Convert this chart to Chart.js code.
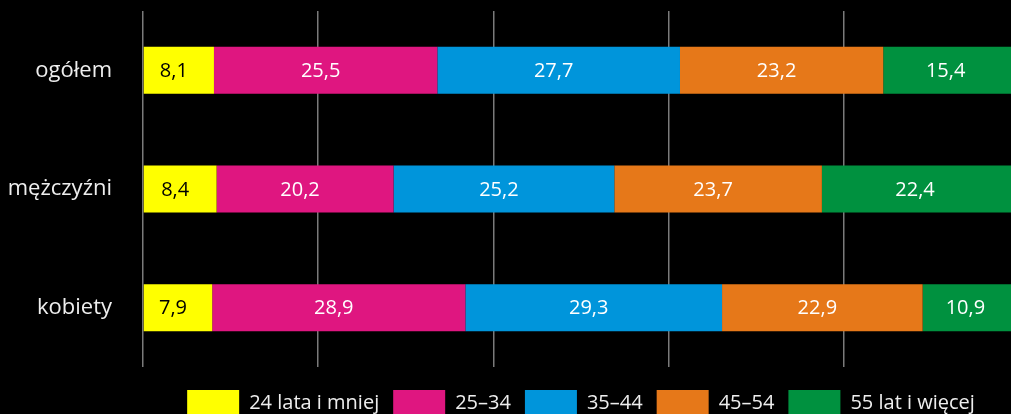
<!DOCTYPE html>
<html>
<head>
<meta charset="utf-8">
<script src="https://cdn.jsdelivr.net/npm/chart.js@4/dist/chart.umd.min.js"></script>
<style>
  html, body { margin: 0; padding: 0; background: #000; overflow: hidden; }
  #wrap { position: absolute; left: 0; top: 0; width: 1021px; height: 426px; }
</style>
</head>
<body>
<div id="wrap"><canvas id="c"></canvas></div>
<script>
const categories = ['ogółem', 'mężczyźni', 'kobiety'];
const seriesNames = ['24 lata i mniej', '25–34', '35–44', '45–54', '55 lat i więcej'];
const s24 = [8.1, 8.4, 7.9];
const s25 = [25.5, 20.2, 28.9];
const s35 = [27.7, 25.2, 29.3];
const s45 = [23.2, 23.7, 22.9];
const s55 = [15.4, 22.4, 10.9];
const xTicks = [0, 20, 40, 60, 80, 100];

const colors = ['#FFFF00', '#DF1680', '#0095DB', '#E67819', '#00913F'];
const labelColors = ['#000000', '#FFFFFF', '#FFFFFF', '#FFFFFF', '#FFFFFF'];
const seriesValues = [s24, s25, s35, s45, s55];

const FONT = '"Open Sans", "Noto Sans", sans-serif';

const valueLabels = {
  id: 'valueLabels',
  afterDatasetsDraw(chart) {
    const ctx = chart.ctx;
    ctx.save();
    ctx.font = '20px ' + FONT;
    ctx.textAlign = 'center';
    ctx.textBaseline = 'middle';
    chart.data.datasets.forEach((ds, di) => {
      const meta = chart.getDatasetMeta(di);
      meta.data.forEach((bar, i) => {
        const v = ds.data[i];
        const cx = (bar.x + bar.base) / 2 - 5;
        ctx.fillStyle = labelColors[di];
        ctx.fillText(v.toFixed(1).replace('.', ','), cx, bar.y + 1);
      });
    });
    ctx.restore();
  }
};

new Chart(document.getElementById('c'), {
  type: 'bar',
  data: {
    labels: categories,
    datasets: seriesNames.map((n, i) => ({
      label: n,
      data: seriesValues[i],
      backgroundColor: colors[i],
      borderWidth: 0,
      categoryPercentage: 1,
      barPercentage: 0.396
    }))
  },
  options: {
    indexAxis: 'y',
    responsive: true,
    maintainAspectRatio: false,
    animation: false,
    layout: { padding: { top: 11, right: 2, left: 0, bottom: 0 } },
    scales: {
      x: {
        stacked: true,
        min: 0,
        max: 100,
        afterBuildTicks: (s) => { s.ticks = xTicks.map(v => ({ value: v })); },
        afterFit: (s) => { s.height = 9; },
        ticks: { display: false },
        grid: { color: '#7a7a7a', lineWidth: 1.5, drawTicks: false },
        border: { display: false }
      },
      y: {
        stacked: true,
        afterFit: (s) => { s.width = 143; s.paddingTop = 0; s.paddingBottom = 0; },
        grid: { display: false, drawTicks: false },
        border: { display: false },
        ticks: {
          color: '#eeeeee',
          padding: 31,
          font: { family: FONT, size: 22 }
        }
      }
    },
    plugins: {
      legend: {
        position: 'bottom',
        fullSize: false,
        labels: {
          color: '#eeeeee',
          boxWidth: 52,
          boxHeight: 26,
          padding: 14,
          font: { family: FONT, size: 20 }
        }
      },
      tooltip: { enabled: false }
    }
  },
  plugins: [valueLabels]
});
</script>
</body>
</html>
